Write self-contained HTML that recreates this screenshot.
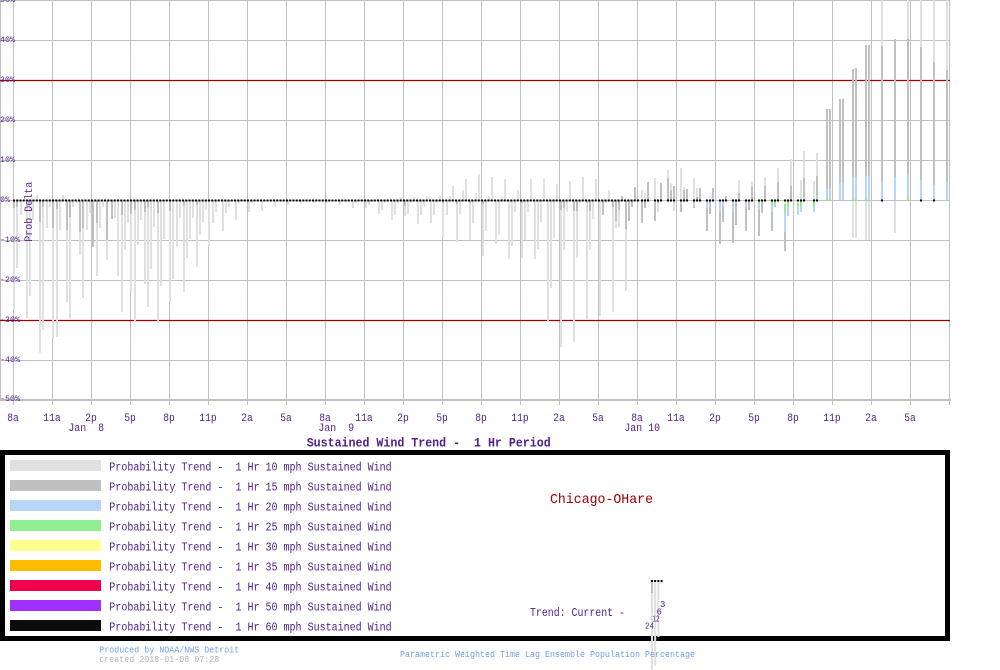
<!DOCTYPE html>
<html>
<head>
<meta charset="utf-8">
<style>
html,body{margin:0;padding:0;background:#fff;}
svg{display:block;}
text{font-family:"Liberation Mono","DejaVu Sans Mono",monospace;}
</style>
</head>
<body>
<svg width="1000" height="670" viewBox="0 0 1000 670" xmlns="http://www.w3.org/2000/svg">
<rect x="0" y="0" width="1000" height="670" fill="#fff"/>
<!-- grid -->
<g shape-rendering="crispEdges" stroke="#c0c0c0" stroke-width="1" fill="none">
<path d="M0 0.5H950M0 40.5H950M0 120.5H950M0 160.5H950M0 200.5H950M0 240.5H950M0 280.5H950M0 360.5H950"/>
<path d="M0.5 0V400M13.5 0V405M52.5 0V405M91.5 0V405M130.5 0V405M169.5 0V405M208.5 0V405M247.5 0V405M286.5 0V405M325.5 0V405M364.5 0V405M403.5 0V405M442.5 0V405M481.5 0V405M520.5 0V405M559.5 0V405M598.5 0V405M637.5 0V405M676.5 0V405M715.5 0V405M754.5 0V405M793.5 0V405M832.5 0V405M871.5 0V405M910.5 0V405M949.5 0V405"/>
</g>
<rect x="0" y="399" width="951" height="2" fill="#c0c0c0"/>
<path d="M0 80.5H950M0 320.5H950" stroke="#a00000" stroke-width="1.3" fill="none"/>

<!-- light bars 10 mph -->
<path stroke="#e0e0e0" stroke-width="2" fill="none" d="M14 201V310M17 201V268M21 201V215M27 201V318M30 201V296M33 201V220M37 200V195M40 201V353M43 201V330M47 201V228M50 201V207M53 201V338M57 201V337M60 201V230M63 200V195M67 201V302M70 201V319M73 201V207M77 201V203M80 201V255M83 201V298M87 201V230M90 201V213M93 201V247M97 201V276M100 201V228M103 201V207M107 201V260M112 201V219M115 201V218M118 201V276M122 201V312M125 201V250M128 201V223M131 201V292M135 201V322M138 201V245M141 201V220M145 201V284M148 201V307M151 201V269M154 201V227M158 201V323M161 201V286M164 201V239M170 201V302M173 201V279M177 201V247M180 201V218M184 201V292M187 201V258M190 201V239M193 201V218M197 201V267M200 201V235M203 201V222M206 201V210M209 201V247M213 201V223M216 201V212M223 201V231M226 201V213M229 201V207M236 201V220M239 201V203M249 201V212M252 201V203M262 201V211M275 201V207M288 201V205M301 201V204M314 201V203M327 201V203M340 201V205M353 201V208M356 201V203M366 201V208M369 201V205M379 201V214M382 201V210M385 201V203M392 201V220M395 201V215M398 201V203M401 200V197M405 201V216M408 201V214M411 201V203M414 200V197M418 201V224M421 201V215M424 201V206M427 200V196M431 201V223M434 201V215M437 201V203M440 200V196M443 201V237M447 201V215M450 200V196M453 200V186M457 201V242M460 201V214M463 200V190M466 200V179M470 201V240M473 201V223M476 200V193M479 200V174M483 201V256M486 201V231M489 200V196M492 200V177M496 201V244M499 201V235M502 200V197M505 200V179M509 201V259M512 201V246M515 201V212M518 200V190M522 201V258M525 201V240M528 201V212M531 200V179M535 201V259M538 201V249M541 201V222M544 200V179M548 201V322M551 201V288M554 201V238M557 200V184M561 201V347M564 201V250M567 201V212M570 200V181M574 201V342M577 201V258M580 201V203M583 200V177M587 201V320M590 201V250M593 201V219M596 200V179M600 201V316M603 201V215M606 201V203M609 200V190M613 201V312M616 201V228M619 201V227M626 201V291M642 200V190M645 200V193M655 200V178M658 201V212M668 200V170M671 200V183M674 201V211M681 200V168M684 200V187M694 200V178M697 200V188M739 200V180M752 200V181M765 200V177M778 200V168M791 200V159M801 200V180M804 200V151M814 200V181M817 200V153M853 201V238M856 201V238M866 201V240M869 201V240M882 200V0M895 201V233M908 200V0M921 200V0M934 200V0M947 200V0"/>

<!-- dark bars 15 mph -->
<path stroke="#c0c0c0" stroke-width="2" fill="none" d="M14 201V208M17 201V207M40 201V222M43 201V207M53 201V228M57 201V209M67 201V230M70 201V217M80 201V232M83 201V228M93 201V247M97 201V223M107 201V240M112 201V219M122 201V215M131 201V214M135 201V210M145 201V212M148 201V207M158 201V213M170 201V211M184 201V206M197 201V205M405 201V206M443 201V203M457 201V204M470 201V203M483 201V204M522 201V203M561 201V210M564 201V208M574 201V211M577 201V211M587 201V203M590 201V211M603 201V215M613 201V207M616 201V221M619 201V210M622 200V196M626 201V229M629 201V221M632 201V207M635 200V187M642 201V223M645 201V208M648 200V182M655 201V221M658 201V203M661 200V183M668 200V178M671 200V190M674 200V186M681 201V212M684 200V190M687 200V189M694 201V208M697 200V197M700 200V188M707 201V231M710 201V214M713 200V188M720 201V244M723 201V222M726 200V196M733 201V243M736 201V225M739 200V193M746 201V231M749 201V210M752 200V187M759 201V236M762 201V213M765 200V186M772 201V231M775 201V207M778 200V182M785 201V251M791 200V186M804 200V178M817 200V176M827 200V109M830 200V109M840 200V99M843 200V99M853 200V69M856 200V68M866 200V45M869 200V45M882 200V46M895 200V39M908 200V39M921 200V47M934 200V62M947 200V70"/>

<!-- blue 20 mph -->
<path stroke="#b8d4f8" stroke-width="2" fill="none" d="M655 201V203M681 201V204M694 201V207M707 201V208M713 200V197M720 201V212M723 201V206M733 201V212M746 201V207M759 201V210M772 201V212M775 201V206M785 201V232M788 201V216M798 201V215M801 201V212M804 200V197M814 201V212M817 200V196M827 200V189M830 200V189M840 200V183M843 200V183M853 200V177M856 200V177M866 200V176M869 200V176M882 200V182M895 200V177M908 200V174M921 200V180M934 200V185M947 200V182"/>
<!-- green 25 mph -->
<path stroke="#90ee90" stroke-width="2" fill="none" d="M759 201V203M772 201V205M775 201V205M785 204V212M788 202V206M798 202V206M801 202V206M814 202V207M827 198V200M830 198V200M853 198V200M856 198V200M866 198V200M908 197V200"/>
<!-- yellow -->
<path stroke="#ffff90" stroke-width="2" fill="none" d="M785 201V204M798 200V203"/>
<!-- black dots -->
<line x1="13" y1="200.5" x2="640" y2="200.5" stroke="#000" stroke-width="2" stroke-dasharray="2 1.25"/>
<path stroke="#000" stroke-width="2" fill="none" d="M641 200.5h2M644 200.5h2M647 200.5h2M654 200.5h2M657 200.5h2M660 200.5h2M667 200.5h2M670 200.5h2M673 200.5h2M680 200.5h2M683 200.5h2M686 200.5h2M693 200.5h2M696 200.5h2M699 200.5h2M706 200.5h2M709 200.5h2M712 200.5h2M719 200.5h2M722 200.5h2M725 200.5h2M732 200.5h2M735 200.5h2M738 200.5h2M745 200.5h2M748 200.5h2M751 200.5h2M758 200.5h2M761 200.5h2M764 200.5h2M771 200.5h2M774 200.5h2M777 200.5h2M784 200.5h2M787 200.5h2M790 200.5h2M797 200.5h2M800 200.5h2M803 200.5h2M813 200.5h2M816 200.5h2M881 200.5h2M920 200.5h2M933 200.5h2"/>

<!-- y labels -->
<g fill="#50208c" font-size="8">
<text x="0" y="2" textLength="15" lengthAdjust="spacingAndGlyphs">50%</text>
<text x="0" y="42" textLength="15" lengthAdjust="spacingAndGlyphs">40%</text>
<text x="0" y="82" textLength="15" lengthAdjust="spacingAndGlyphs">30%</text>
<text x="0" y="122" textLength="15" lengthAdjust="spacingAndGlyphs">20%</text>
<text x="0" y="162" textLength="15" lengthAdjust="spacingAndGlyphs">10%</text>
<text x="0" y="202" textLength="10" lengthAdjust="spacingAndGlyphs">0%</text>
<text x="0" y="242" textLength="20" lengthAdjust="spacingAndGlyphs">-10%</text>
<text x="0" y="282" textLength="20" lengthAdjust="spacingAndGlyphs">-20%</text>
<text x="0" y="322" textLength="20" lengthAdjust="spacingAndGlyphs">-30%</text>
<text x="0" y="362" textLength="20" lengthAdjust="spacingAndGlyphs">-40%</text>
<text x="0" y="401" textLength="20" lengthAdjust="spacingAndGlyphs">-50%</text>
</g>
<text transform="translate(32,241.7) rotate(-90)" x="0" y="0" fill="#6030a0" font-size="11" textLength="60" lengthAdjust="spacingAndGlyphs">Prob Delta</text>

<!-- x labels -->
<g fill="#50208c" font-size="11" text-anchor="middle">
<text x="13" y="421" textLength="11.6" lengthAdjust="spacingAndGlyphs">8a</text>
<text x="52" y="421" textLength="17.4" lengthAdjust="spacingAndGlyphs">11a</text>
<text x="91" y="421" textLength="11.6" lengthAdjust="spacingAndGlyphs">2p</text>
<text x="130" y="421" textLength="11.6" lengthAdjust="spacingAndGlyphs">5p</text>
<text x="169" y="421" textLength="11.6" lengthAdjust="spacingAndGlyphs">8p</text>
<text x="208" y="421" textLength="17.4" lengthAdjust="spacingAndGlyphs">11p</text>
<text x="247" y="421" textLength="11.6" lengthAdjust="spacingAndGlyphs">2a</text>
<text x="286" y="421" textLength="11.6" lengthAdjust="spacingAndGlyphs">5a</text>
<text x="325" y="421" textLength="11.6" lengthAdjust="spacingAndGlyphs">8a</text>
<text x="364" y="421" textLength="17.4" lengthAdjust="spacingAndGlyphs">11a</text>
<text x="403" y="421" textLength="11.6" lengthAdjust="spacingAndGlyphs">2p</text>
<text x="442" y="421" textLength="11.6" lengthAdjust="spacingAndGlyphs">5p</text>
<text x="481" y="421" textLength="11.6" lengthAdjust="spacingAndGlyphs">8p</text>
<text x="520" y="421" textLength="17.4" lengthAdjust="spacingAndGlyphs">11p</text>
<text x="559" y="421" textLength="11.6" lengthAdjust="spacingAndGlyphs">2a</text>
<text x="598" y="421" textLength="11.6" lengthAdjust="spacingAndGlyphs">5a</text>
<text x="637" y="421" textLength="11.6" lengthAdjust="spacingAndGlyphs">8a</text>
<text x="676" y="421" textLength="17.4" lengthAdjust="spacingAndGlyphs">11a</text>
<text x="715" y="421" textLength="11.6" lengthAdjust="spacingAndGlyphs">2p</text>
<text x="754" y="421" textLength="11.6" lengthAdjust="spacingAndGlyphs">5p</text>
<text x="793" y="421" textLength="11.6" lengthAdjust="spacingAndGlyphs">8p</text>
<text x="832" y="421" textLength="17.4" lengthAdjust="spacingAndGlyphs">11p</text>
<text x="871" y="421" textLength="11.6" lengthAdjust="spacingAndGlyphs">2a</text>
<text x="910" y="421" textLength="11.6" lengthAdjust="spacingAndGlyphs">5a</text>
<text x="86.2" y="431" textLength="35.7" lengthAdjust="spacingAndGlyphs">Jan&#160;&#160;8</text>
<text x="336.2" y="431" textLength="35.7" lengthAdjust="spacingAndGlyphs">Jan&#160;&#160;9</text>
<text x="642.2" y="431" textLength="35.7" lengthAdjust="spacingAndGlyphs">Jan 10</text>
</g>
<text x="306.7" y="446.5" fill="#50208c" font-size="12.5" font-weight="bold" textLength="244" lengthAdjust="spacingAndGlyphs">Sustained Wind Trend -&#160;&#160;1 Hr Period</text>

<!-- legend box -->
<rect x="2.5" y="452.5" width="945" height="186" fill="none" stroke="#000" stroke-width="5"/>
<g>
<rect x="10" y="460" width="91" height="11" fill="#e0e0e0"/>
<rect x="10" y="480" width="91" height="11" fill="#c0c0c0"/>
<rect x="10" y="500" width="91" height="11" fill="#b8d4f8"/>
<rect x="10" y="520" width="91" height="11" fill="#90ee90"/>
<rect x="10" y="540" width="91" height="11" fill="#ffff90"/>
<rect x="10" y="560" width="91" height="11" fill="#ffbb00"/>
<rect x="10" y="580" width="91" height="11" fill="#f0004c"/>
<rect x="10" y="600" width="91" height="11" fill="#a030ff"/>
<rect x="10" y="620" width="91" height="11" fill="#0c0c0c"/>
</g>
<g fill="#50208c" font-size="12">
<text x="109.3" y="470.5" textLength="282.4" lengthAdjust="spacingAndGlyphs">Probability Trend -&#160;&#160;1 Hr 10 mph Sustained Wind</text>
<text x="109.3" y="490.5" textLength="282.4" lengthAdjust="spacingAndGlyphs">Probability Trend -&#160;&#160;1 Hr 15 mph Sustained Wind</text>
<text x="109.3" y="510.5" textLength="282.4" lengthAdjust="spacingAndGlyphs">Probability Trend -&#160;&#160;1 Hr 20 mph Sustained Wind</text>
<text x="109.3" y="530.5" textLength="282.4" lengthAdjust="spacingAndGlyphs">Probability Trend -&#160;&#160;1 Hr 25 mph Sustained Wind</text>
<text x="109.3" y="550.5" textLength="282.4" lengthAdjust="spacingAndGlyphs">Probability Trend -&#160;&#160;1 Hr 30 mph Sustained Wind</text>
<text x="109.3" y="570.5" textLength="282.4" lengthAdjust="spacingAndGlyphs">Probability Trend -&#160;&#160;1 Hr 35 mph Sustained Wind</text>
<text x="109.3" y="590.5" textLength="282.4" lengthAdjust="spacingAndGlyphs">Probability Trend -&#160;&#160;1 Hr 40 mph Sustained Wind</text>
<text x="109.3" y="610.5" textLength="282.4" lengthAdjust="spacingAndGlyphs">Probability Trend -&#160;&#160;1 Hr 50 mph Sustained Wind</text>
<text x="109.3" y="630.5" textLength="282.4" lengthAdjust="spacingAndGlyphs">Probability Trend -&#160;&#160;1 Hr 60 mph Sustained Wind</text>
</g>
<text x="550" y="503" fill="#a00000" font-size="14" textLength="103" lengthAdjust="spacingAndGlyphs">Chicago-OHare</text>
<text x="530" y="616" fill="#50208c" font-size="11.5" textLength="95" lengthAdjust="spacingAndGlyphs">Trend: Current -</text>

<!-- mini trend -->
<path stroke="#e0e0e0" stroke-width="2" fill="none" d="M652 582V670M655.2 582V666M658.4 582V637M661.5 582V584"/>
<path stroke="#c0c0c0" stroke-width="2" fill="none" d="M652 582V593"/>
<path stroke="#000" stroke-width="2" fill="none" d="M651 581h2M654.2 581h2M657.4 581h2M660.6 581h2"/>
<g fill="#50208c" font-size="9">
<text x="660" y="607">3</text>
<text x="656.5" y="614.3">6</text>
<text x="652.5" y="621.7" textLength="7" lengthAdjust="spacingAndGlyphs">12</text>
<text x="645" y="628.3" textLength="9" lengthAdjust="spacingAndGlyphs">24</text>
</g>

<!-- footer -->
<text x="99.3" y="652.3" fill="#6f9fe8" font-size="9" textLength="140" lengthAdjust="spacingAndGlyphs">Produced by NOAA/NWS Detroit</text>
<text x="99.3" y="662" fill="#b4b4b4" font-size="9" textLength="120" lengthAdjust="spacingAndGlyphs">created 2018-01-08 07:28</text>
<text x="400" y="657" fill="#6f9fe8" font-size="9" textLength="295" lengthAdjust="spacingAndGlyphs">Parametric Weighted Time Lag Ensemble Population Percentage</text>
</svg>
</body>
</html>
